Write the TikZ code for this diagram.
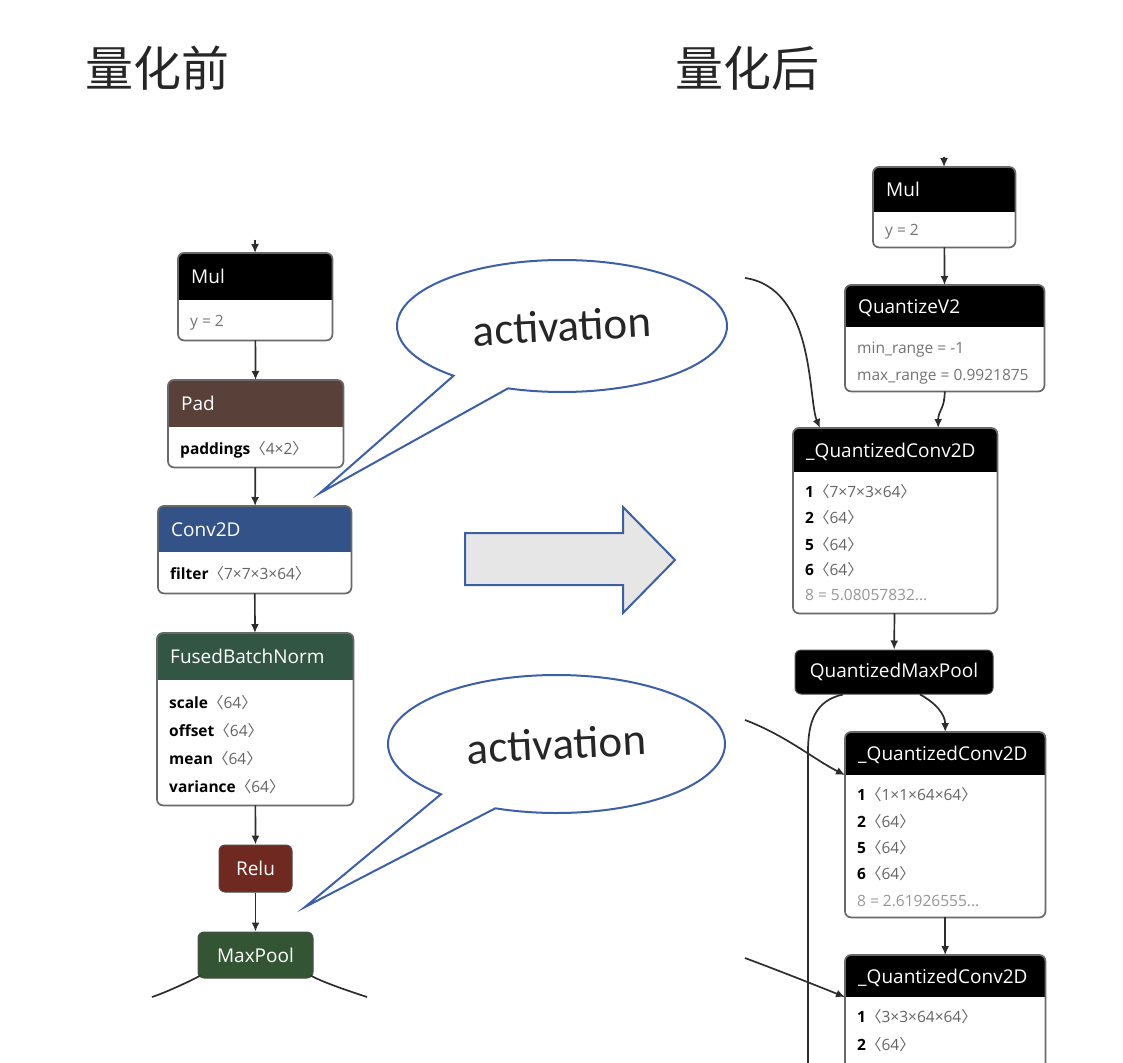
\documentclass[tikz,border=0pt]{standalone}
\usepackage{fontspec}
\setmainfont{Open Sans}
\newfontfamily\cjk{Noto Sans CJK SC}
\newfontfamily\calibrifont{Carlito}
\usepackage{graphicx}
\usetikzlibrary{arrows.meta,shapes.callouts,calc}
\definecolor{framecol}{RGB}{105,105,105}
\definecolor{edgecol}{RGB}{45,45,45}
\definecolor{padcol}{RGB}{89,64,56}
\definecolor{convcol}{RGB}{51,83,136}
\definecolor{normcol}{RGB}{51,85,68}
\definecolor{relucol}{RGB}{112,41,33}
\definecolor{poolcol}{RGB}{51,85,51}
\definecolor{valgray}{RGB}{100,100,100}
\definecolor{gray1}{RGB}{115,115,115}
\definecolor{gray2}{RGB}{150,150,150}
\definecolor{bubblecol}{RGB}{61,95,165}
\definecolor{arrowfill}{RGB}{231,230,230}
\tikzstyle{opframe}=[fill=white, inner sep=0pt, anchor=north west]
\tikzstyle{opborder}=[draw=framecol, line width=1.7pt, rounded corners=6pt]
\tikzstyle{optitle}=[text=white, anchor=base west, inner sep=0pt, font=\fontsize{19}{22}\selectfont]
\tikzstyle{opattr}=[anchor=base west, inner sep=0pt, font=\fontsize{15.5}{18}\selectfont]
\tikzstyle{opsolid}=[rounded corners=6pt, draw=black!70, line width=1pt, text=white, inner sep=0pt, font=\fontsize{19}{22}\selectfont]
\tikzstyle{flow}=[draw=edgecol, line width=1.7pt, -{Latex[length=9pt,width=8pt]}]
\tikzstyle{edge}=[draw=edgecol, line width=1.7pt]
\tikzstyle{bubble}=[ellipse callout, draw=bubblecol, line width=2pt, fill=white, inner sep=0pt, callout pointer arc=22, text=black!85, font=\calibrifont\fontsize{45}{50}\selectfont]
\tikzstyle{bigarrow}=[draw=bubblecol, line width=2pt, fill=arrowfill]
\tikzstyle{heading}=[inner sep=0pt, text=black!85, font=\cjk\fontsize{48}{56}\selectfont]
\newcommand{\shapeof}[1]{{\cjk 〈}#1{\cjk 〉}}
\newcommand{\keyval}[2]{\textbf{#1}{\color{valgray}\shapeof{#2}}}

\begin{document}
\begin{tikzpicture}[x=1pt,y=-1pt]
    \useasboundingbox (0,0) rectangle (1123,1062);
    \clip (0,0) rectangle (1123,1062);
    % Headings
    \node[heading] (before) at (157,68) {量化前};
    \node[heading] (after) at (747,68) {量化后};
    % First we draw the operator boxes with their coloured header
    \foreach \name/\x/\y/\w/\h/\hh/\col in {mulA/178/253/154/87/47/black, padA/168/380/175/87/47/padcol,
        convA/158/506/193/87/46/convcol, fbnA/157/633/196/172/47/normcol, mulB/873/167/142/80/45/black,
        qv/845/285/199/106/42/black, qcA/793/428/204/185/44/black, qcB/845/732/200/185/43/black,
        qcC/845/955/200/150/42/black}
    {
        \node[opframe, minimum width=\w, minimum height=\h] (\name) at (\x,\y) {};
        \coordinate (\name-h) at ($(\name.north west)+(0,\hh)$);
        \begin{scope}
            \clip[rounded corners=6pt] (\name.north west) rectangle (\name.south east);
            \fill[\col] (\name.north west) rectangle ($(\name.north east)+(0,\hh)$);
        \end{scope}
        \draw[opborder] (\name.north west) rectangle (\name.south east);
    }
    % Titles of the boxes
    \foreach \name/\dy/\txt in {mulA/30.5/Mul, padA/30.5/Pad, convA/30/Conv2D, fbnA/30.5/FusedBatchNorm,
        mulB/29.5/Mul, qv/28/QuantizeV2, qcA/29/\_QuantizedConv2D, qcB/28.5/\_QuantizedConv2D,
        qcC/28/\_QuantizedConv2D}
        \node[optitle] at ($(\name.north west)+(13,\dy)$) {\txt};
    % Attributes
    \foreach \name/\dy/\txt in {mulA/73/{\color{gray1}y = 2}, padA/74/{\keyval{paddings}{4×2}},
        convA/73/{\keyval{filter}{7×7×3×64}},
        fbnA/75.5/{\keyval{scale}{64}}, fbnA/103.5/{\keyval{offset}{64}},
        fbnA/131.5/{\keyval{mean}{64}}, fbnA/159.5/{\keyval{variance}{64}},
        mulB/68.5/{\color{gray1}y = 2},
        qv/68.5/{\color{gray1}min\_range = -1}, qv/95.5/{\color{gray1}max\_range = 0.9921875},
        qcA/69.5/{\keyval{1}{7×7×3×64}}, qcA/95.5/{\keyval{2}{64}}, qcA/122/{\keyval{5}{64}},
        qcA/147.5/{\keyval{6}{64}}, qcA/172.5/{\color{gray2}8 = 5.08057832...},
        qcB/68.5/{\keyval{1}{1×1×64×64}}, qcB/95/{\keyval{2}{64}}, qcB/121.5/{\keyval{5}{64}},
        qcB/147/{\keyval{6}{64}}, qcB/174.5/{\color{gray2}8 = 2.61926555...},
        qcC/67.5/{\keyval{1}{3×3×64×64}}, qcC/95.5/{\keyval{2}{64}}}
        \node[opattr] at ($(\name.north west)+(12,\dy)$) {\txt};
    % Single coloured boxes
    \node[opsolid, fill=relucol, minimum width=73, minimum height=47] (reluA) at (255.5,868.5) {Relu};
    \node[opsolid, fill=poolcol, minimum width=115, minimum height=46] (poolA) at (255.5,955) {MaxPool};
    \node[opsolid, fill=black, minimum width=198, minimum height=44] (qmp) at (894,672) {QuantizedMaxPool};
    % Free ends of the connectors
    \coordinate (inA) at (255,240);
    \coordinate (inB) at (944,157);
    \coordinate (tailL) at (152,997);
    \coordinate (tailR) at (367,997);
    \coordinate (actA) at (745,278);
    \coordinate (actB) at (745,720);
    \coordinate (actC) at (745,958);
    \coordinate (skipTurn) at (808,752);
    \coordinate (skipB) at (808,1075);
    % Connect boxes with edges
    \foreach \source/\dest in {inA/mulA, mulA/padA, padA/convA, convA/fbnA, fbnA/reluA, reluA/poolA,
        inB/mulB, mulB/qv, qcA/qmp, qcB/qcC}
        \path[flow] (\source) -- (\dest);
    \path[flow] (qv.south) .. controls +(0,18) and +(0,-18) .. ($(qcA.north)+(43,0)$);
    \path[flow] (actA) .. controls (815,288) and (808,400) .. ($(qcA.north west)+(27,0)$);
    \path[flow] ($(qmp.south)+(26,0)$) .. controls +(15,8) and +(0,-18) .. (qcB.north);
    \path[edge] ($(qmp.south)+(-51,0)$) .. controls +(-28,6) and +(0,-30) .. (skipTurn) -- (skipB);
    \path[flow] (actB) .. controls (785,735) and (815,760) .. (qcB-h);
    \path[flow] (actC) .. controls (785,973) and (815,985) .. (qcC-h);
    \path[edge] ($(poolA.south west)+(3,-3)$) .. controls +(-15,8) and +(12,-4) .. (tailL);
    \path[edge] ($(poolA.south east)+(-3,-3)$) .. controls +(15,8) and +(-12,-4) .. (tailR);
    % Big arrow and the callouts
    \path[bigarrow] (465,533) -- (623,533) -- (623,507) -- (675,560) -- (623,613) -- (623,585) -- (465,585) -- cycle;
    \coordinate (tipA) at (320,493);
    \coordinate (tipB) at (305,907);
    \node[bubble, minimum width=330, minimum height=132, callout absolute pointer={(tipA)}] (bubA) at (562,326) {\rotatebox{3}{activation}};
    \node[bubble, minimum width=337, minimum height=138, callout absolute pointer={(tipB)}] (bubB) at (556.5,744) {\rotatebox{3}{activation}};
\end{tikzpicture}
\end{document}
